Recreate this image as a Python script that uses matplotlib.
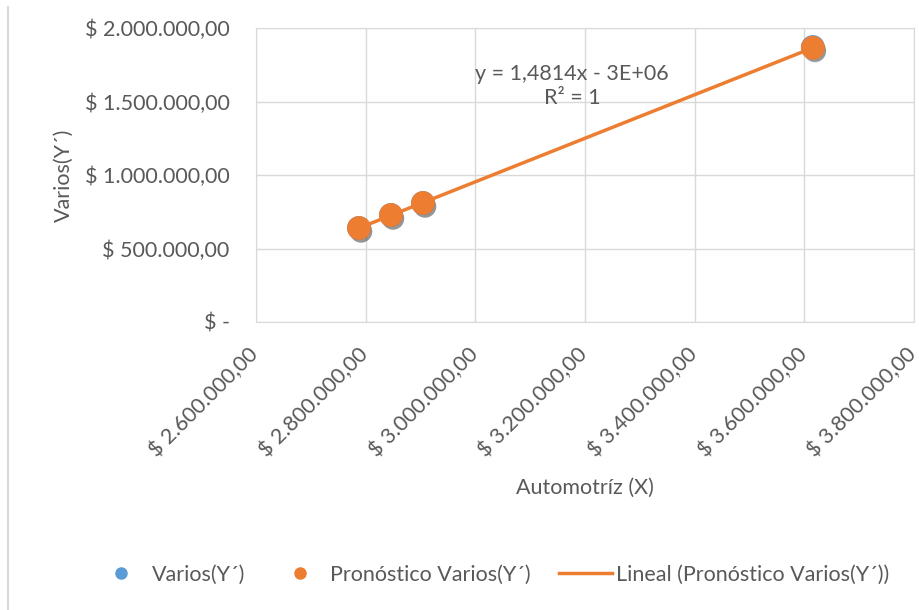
import matplotlib.pyplot as plt
import matplotlib.patheffects as pe
import matplotlib.transforms as mtrans
from matplotlib.lines import Line2D
import numpy as np
from matplotlib.ticker import FuncFormatter

plt.rcParams['font.family'] = ['Lato', 'DejaVu Sans']

# Automotriz (X) vs Varios (Y') values
automotriz = [2787800, 2846100, 2904500, 3615500]
varios = [639500, 727900, 809500, 1870700]
pronostico = [639400, 727800, 809400, 1865600]

x_ticks = [2600000, 2800000, 3000000, 3200000, 3400000, 3600000, 3800000]
y_ticks = [0, 500000, 1000000, 1500000, 2000000]

grey = '#595959'
blue = '#5b9bd5'
orange = '#ed7d31'
fs = 15.5


def pesos(v, pos=None):
    if v == 0:
        return '$ -'
    s = f'{v:,.2f}'.replace(',', 'X').replace('.', ',').replace('X', '.')
    return '$ ' + s


fig = plt.figure(figsize=(9.2, 6.1), dpi=100)
ax = fig.add_axes([256 / 920, 1 - 322 / 610, (914 - 256) / 920, (322 - 28) / 610])

shadow = [pe.SimplePatchShadow(offset=(1.5, -2.5), shadow_rgbFace='#333333', alpha=0.3),
          pe.Normal()]

ax.scatter(automotriz, varios, s=260, color=blue, zorder=3, path_effects=shadow)
ax.scatter(automotriz, pronostico, s=260, color=orange, zorder=4, path_effects=shadow)

# linear trend on the forecast series
m, b = np.polyfit(automotriz, pronostico, 1)
xs = np.array([min(automotriz), max(automotriz)])
ax.plot(xs, m * xs + b, color=orange, lw=2.5, zorder=3)

ax.text(3176000, 1605000, 'y = 1,4814x - 3E+06\nR² = 1', ha='center', va='center',
        fontsize=fs, color=grey, linespacing=1.3)

ax.set_xlim(2600000, 3800000)
ax.set_ylim(0, 2000000)
ax.set_xticks(x_ticks)
ax.set_yticks(y_ticks)
ax.xaxis.set_major_formatter(FuncFormatter(pesos))
ax.yaxis.set_major_formatter(FuncFormatter(pesos))
ax.grid(True, color='#d9d9d9', lw=1)
ax.set_axisbelow(True)
for sp in ax.spines.values():
    sp.set_color('#d9d9d9')
ax.tick_params(length=0, colors=grey, labelsize=fs)
ax.tick_params(axis='y', pad=19)
ax.tick_params(axis='x', pad=16)
shift = mtrans.ScaledTranslation(-8 / 100, 0, fig.dpi_scale_trans)
for lbl in ax.get_xticklabels():
    lbl.set_rotation(45)
    lbl.set_ha('right')
    lbl.set_rotation_mode('anchor')
    lbl.set_transform(lbl.get_transform() + shift)

ax.set_xlabel('Automotríz (X)', fontsize=fs, color=grey, labelpad=12)
ax.set_ylabel('Varios(Y´)', fontsize=fs, color=grey, labelpad=8)

handles = [
    Line2D([], [], ls='none', marker='o', ms=8, color=blue),
    Line2D([], [], ls='none', marker='o', ms=8, color=orange),
    Line2D([], [], color=orange, lw=2.5),
]
labels = ['Varios(Y´)', 'Pronóstico Varios(Y´)', 'Lineal (Pronóstico Varios(Y´))']
fig.legend(handles, labels, loc='center', bbox_to_anchor=(492 / 920, 1 - 575 / 610),
           ncol=3, frameon=False, fontsize=fs, labelcolor=grey, handlelength=2.45,
           handletextpad=0.2, columnspacing=1.3)

fig.add_artist(Line2D([8 / 920, 8 / 920], [0, 1 - 7 / 610], color='#d9d9d9', lw=1.5))

fig.savefig('out.png', dpi=100, facecolor='white')
